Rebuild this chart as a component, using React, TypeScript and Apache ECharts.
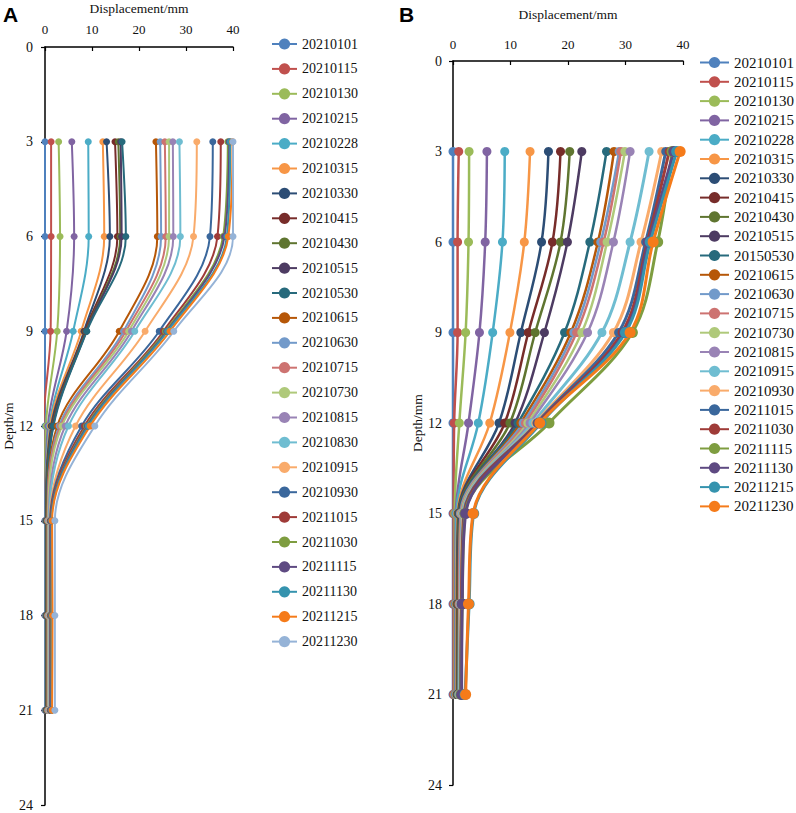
import React, { useEffect, useRef } from "react";
import * as echarts from "echarts";

const depths = [3, 6, 9, 12, 15, 18, 21];
const xTicks = [0, 10, 20, 30, 40];
const yTicks = [0, 3, 6, 9, 12, 15, 18, 21, 24];

const palette = [
  "#4F81BD", "#C0504D", "#9BBB59", "#8064A2", "#4BACC6", "#F79646",
  "#2C4D75", "#772C2A", "#5F7530", "#4D3B62", "#276A7C", "#B65708",
  "#729ACA", "#CD7371", "#AFC97A", "#9983B5", "#6FBDD1", "#F9AB6B",
  "#3A679C", "#9F3B38", "#7E9D40", "#5E4A82", "#3593AE", "#F57B1A", "#95B3D7",
];

const namesA = [
  "20210101", "20210115", "20210130", "20210215", "20210228", "20210315",
  "20210330", "20210415", "20210430", "20210515", "20210530", "20210615",
  "20210630", "20210715", "20210730", "20210815", "20210830", "20210915",
  "20210930", "20211015", "20211030", "20211115", "20211130", "20211215",
  "20211230",
];

const valuesA = [
  [0, 0, 0, 0, 0, 0, 0],
  [1.3, 1.3, 1.2, -0.3, -0.3, -0.3, -0.3],
  [2.9, 3.2, 2.6, 0.2, -0.1, -0.1, -0.1],
  [5.7, 6.2, 4.6, 0.6, 0.0, 0.0, 0.0],
  [9.2, 9.3, 6.0, 0.9, 0.1, 0.1, 0.1],
  [12.3, 12.6, 7.7, 1.1, 0.2, 0.2, 0.2],
  [13.1, 13.8, 8.3, 1.3, 0.2, 0.2, 0.2],
  [14.9, 15.4, 8.5, 1.5, 0.3, 0.3, 0.3],
  [15.6, 16.0, 8.7, 1.6, 0.3, 0.3, 0.3],
  [16.1, 16.3, 8.8, 1.7, 0.4, 0.4, 0.4],
  [16.4, 17.2, 8.9, 1.8, 0.4, 0.4, 0.4],
  [23.6, 23.9, 15.8, 2.6, 0.5, 0.5, 0.5],
  [24.5, 24.7, 16.7, 3.0, 0.6, 0.6, 0.6],
  [25.5, 25.7, 17.2, 3.3, 0.6, 0.6, 0.6],
  [26.4, 26.4, 17.8, 3.6, 0.7, 0.7, 0.7],
  [27.2, 27.3, 18.4, 4.3, 0.8, 0.8, 0.8],
  [28.6, 28.8, 19.1, 5.0, 0.9, 0.9, 0.9],
  [32.3, 31.6, 21.3, 6.5, 1.0, 1.0, 1.0],
  [35.7, 35.1, 24.3, 7.8, 1.1, 1.1, 1.1],
  [37.4, 36.7, 25.2, 8.4, 1.2, 1.2, 1.2],
  [38.9, 37.9, 25.6, 8.8, 1.3, 1.3, 1.3],
  [39.2, 38.2, 25.9, 9.0, 1.3, 1.4, 1.3],
  [39.4, 38.7, 26.1, 9.2, 1.4, 1.5, 1.4],
  [39.9, 39.0, 26.6, 9.6, 1.5, 1.6, 1.5],
  [40.0, 40.0, 27.4, 10.6, 2.1, 2.1, 2.1],
];

const namesB = [
  "20210101", "20210115", "20210130", "20210215", "20210228", "20210315",
  "20210330", "20210415", "20210430", "20210515", "20150530", "20210615",
  "20210630", "20210715", "20210730", "20210815", "20210915", "20210930",
  "20211015", "20211030", "20211115", "20211130", "20211215", "20211230",
];

const valuesB = [
  [0, 0, 0, 0, 0, 0, 0],
  [1.0, 0.8, 0.8, 0.2, 0.1, 0.1, 0.1],
  [2.8, 2.7, 2.2, 1.1, 0.3, 0.3, 0.3],
  [5.9, 5.6, 4.6, 2.7, 0.5, 0.4, 0.4],
  [9.0, 8.6, 6.9, 4.4, 0.6, 0.5, 0.5],
  [13.4, 12.4, 9.9, 6.4, 0.8, 0.6, 0.6],
  [16.6, 15.4, 11.8, 8.0, 0.9, 0.7, 0.7],
  [18.7, 17.3, 13.1, 9.0, 1.0, 0.8, 0.8],
  [20.3, 18.7, 14.3, 9.9, 1.0, 0.8, 0.8],
  [22.4, 19.9, 15.9, 10.8, 1.1, 0.9, 0.9],
  [26.7, 23.8, 19.4, 11.3, 1.2, 1.0, 0.9],
  [28.0, 25.2, 20.5, 11.8, 1.3, 1.0, 1.0],
  [28.9, 25.7, 21.0, 12.2, 1.3, 1.1, 1.0],
  [29.2, 26.2, 21.5, 12.6, 1.4, 1.1, 1.1],
  [29.9, 26.8, 22.4, 13.0, 1.5, 1.2, 1.1],
  [30.8, 27.9, 23.4, 13.4, 1.6, 1.2, 1.2],
  [34.1, 30.8, 25.9, 13.9, 1.7, 1.3, 1.2],
  [36.3, 32.7, 27.9, 14.4, 1.8, 1.4, 1.3],
  [37.0, 33.5, 28.8, 14.6, 1.9, 1.5, 1.3],
  [37.6, 33.8, 29.4, 14.8, 2.0, 1.5, 1.4],
  [38.1, 35.6, 31.2, 16.7, 2.1, 1.6, 1.4],
  [38.4, 34.0, 29.8, 15.0, 2.2, 1.6, 1.5],
  [38.9, 34.3, 30.0, 15.3, 3.6, 2.8, 2.1],
  [39.5, 34.8, 30.8, 15.1, 3.5, 2.7, 2.2],
];

const SERIF = "'Liberation Serif', 'Times New Roman', serif";
const SANS = "'Liberation Sans', Arial, sans-serif";

export default function App() {
  const ref = useRef<HTMLDivElement>(null);

  useEffect(() => {
    if (!ref.current) return;
    const chart = echarts.init(ref.current, undefined, { renderer: "svg" });

    const mkX = (gridIndex: number, labelSize: number, margin: number) => ({
      type: "value",
      gridIndex,
      position: "top",
      min: xTicks[0],
      max: xTicks[xTicks.length - 1],
      interval: xTicks[1] - xTicks[0],
      axisLine: { show: true, onZero: false, lineStyle: { color: "#000", width: 1.5 } },
      axisTick: { show: true, inside: true, length: 4, lineStyle: { color: "#000", width: 1.2 } },
      axisLabel: { color: "#111", fontFamily: SERIF, fontSize: labelSize, margin },
      splitLine: { show: false },
    });
    const mkY = (gridIndex: number, labelSize: number, margin: number) => ({
      type: "value",
      gridIndex,
      inverse: true,
      min: yTicks[0],
      max: yTicks[yTicks.length - 1],
      interval: yTicks[1] - yTicks[0],
      axisLine: { show: true, onZero: false, lineStyle: { color: "#000", width: 1.5 } },
      axisTick: { show: true, length: 4, lineStyle: { color: "#000", width: 1.2 } },
      axisLabel: { color: "#111", fontFamily: SERIF, fontSize: labelSize, margin },
      splitLine: { show: false },
    });

    const seriesA = namesA.map((name, i) => ({
      type: "line",
      name,
      xAxisIndex: 0,
      yAxisIndex: 0,
      data: depths.map((d, j) => [valuesA[i][j], d]),
      smooth: 0.35,
      symbol: "circle",
      symbolSize: 7,
      color: palette[i],
      lineStyle: { width: 2, color: palette[i] },
      itemStyle: { color: palette[i] },
    }));

    const seriesB = namesB.map((name, i) => ({
      type: "line",
      name: "B|" + name,
      xAxisIndex: 1,
      yAxisIndex: 1,
      data: depths.map((d, j) => [valuesB[i][j], d]),
      smooth: 0.35,
      symbol: "circle",
      symbolSize: i >= 20 ? 11 : 9,
      color: palette[i],
      lineStyle: { width: i >= 16 ? 3 : 2.5, color: palette[i] },
      itemStyle: { color: palette[i] },
    }));

    chart.setOption({
      animation: false,
      backgroundColor: "#fff",
      grid: [
        { left: 45, top: 47, width: 188, height: 758, containLabel: false, outerBoundsMode: "none" },
        { left: 453, top: 61, width: 230, height: 724, containLabel: false, outerBoundsMode: "none" },
      ],
      xAxis: [
        {
          ...mkX(0, 13, 11),
          name: "Displacement/mm",
          nameLocation: "middle",
          nameGap: 32,
          nameTextStyle: { color: "#111", fontFamily: SERIF, fontSize: 13.5 },
        },
        {
          ...mkX(1, 13, 10),
          name: "Displacement/mm",
          nameLocation: "middle",
          nameGap: 40,
          nameTextStyle: { color: "#111", fontFamily: SERIF, fontSize: 13.5 },
        },
      ],
      yAxis: [
        {
          ...mkY(0, 14, 12),
          name: "Depth/m",
          nameLocation: "middle",
          nameGap: 28,
          nameRotate: 90,
          nameTextStyle: { color: "#111", fontFamily: SERIF, fontSize: 13.5 },
        },
        {
          ...mkY(1, 14, 11),
          name: "Depth/mm",
          nameLocation: "middle",
          nameGap: 29,
          nameRotate: 90,
          nameTextStyle: { color: "#111", fontFamily: SERIF, fontSize: 13.5 },
        },
      ],
      legend: [
        {
          orient: "vertical",
          left: 271,
          top: 37,
          padding: 0,
          itemWidth: 25,
          itemHeight: 14,
          itemGap: 10.9,
          data: namesA,
          textStyle: { color: "#111", fontFamily: SERIF, fontSize: 14 },
        },
        {
          orient: "vertical",
          left: 699,
          top: 55,
          padding: 0,
          itemWidth: 29,
          itemHeight: 14,
          itemGap: 4.3,
          data: namesB.map((n) => "B|" + n),
          formatter: (n: string) => n.replace("B|", ""),
          textStyle: { color: "#111", fontFamily: SERIF, fontSize: 15 },
        },
      ],
      graphic: [
        {
          type: "text",
          left: 3,
          top: 4,
          style: { text: "A", fontFamily: SANS, fontWeight: "bold", fontSize: 21, fill: "#000" },
        },
        {
          type: "text",
          left: 399,
          top: 4,
          style: { text: "B", fontFamily: SANS, fontWeight: "bold", fontSize: 21, fill: "#000" },
        },
      ],
      series: [...seriesA, ...seriesB],
    });

    return () => chart.dispose();
  }, []);

  return (
    <div
      ref={ref}
      style={{ position: "fixed", left: 0, top: 0, width: 796, height: 813 }}
    />
  );
}
